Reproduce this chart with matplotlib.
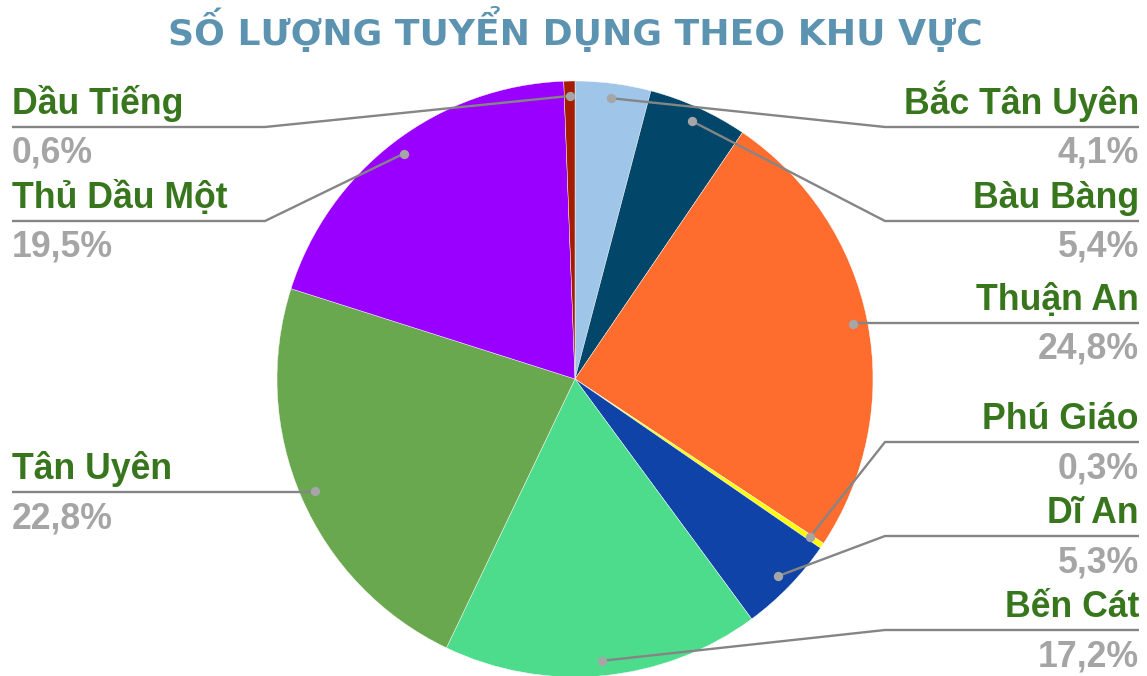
import matplotlib
matplotlib.use("Agg")
import matplotlib.pyplot as plt
import numpy as np

# ---- data ----
title = "SỐ LƯỢNG TUYỂN DỤNG THEO KHU VỰC"
regions = ["Bắc Tân Uyên", "Bàu Bàng", "Thuận An", "Phú Giáo", "Dĩ An",
           "Bến Cát", "Tân Uyên", "Thủ Dầu Một", "Dầu Tiếng"]
shares = [4.1, 5.4, 24.8, 0.3, 5.3, 17.2, 22.8, 19.5, 0.6]
pct_labels = ["4,1%", "5,4%", "24,8%", "0,3%", "5,3%", "17,2%", "22,8%", "19,5%", "0,6%"]
colors = ["#9FC5E8", "#02466A", "#FF6D2E", "#FFFF00", "#1043A8",
          "#4DDC8C", "#6AA84F", "#9900FF", "#A61C00"]

# ---- layout (pixel units, y measured from top) ----
W, H = 1147, 676
side = ["R", "R", "R", "R", "R", "R", "L", "L", "L"]
line_y = [127, 221, 323, 442, 536, 630, 492, 221, 127]

fig = plt.figure(figsize=(W / 100, H / 100), dpi=100)
ax = fig.add_axes([0, 0, 1, 1])

cx, cy, R = 575, H - 379, 298
wedges, _ = ax.pie(shares, colors=colors, startangle=90, counterclock=False,
                   center=(cx, cy), radius=R,
                   wedgeprops=dict(linewidth=0.3, edgecolor="white"))
ax.set_xlim(0, W)
ax.set_ylim(0, H)
ax.set_aspect("equal")
ax.axis("off")

name_col = "#38761D"
pct_col = "#A5A5A5"
line_col = "#858585"
lab_font = ["Liberation Sans", "DejaVu Sans"]
fs = 25.7

for w, name, pct, sd, ly in zip(wedges, regions, pct_labels, side, line_y):
    mid = np.deg2rad((w.theta1 + w.theta2) / 2)
    dx = cx + 0.95 * R * np.cos(mid)
    dy = cy + 0.95 * R * np.sin(mid)
    yl = H - ly
    if sd == "R":
        xs_end, xs_bend = 1139, 885
        xt, ha = 1139, "right"
    else:
        xs_end, xs_bend = 12, 265
        xt, ha = 12, "left"
    if abs(yl - dy) < 3:
        ax.plot([dx, xs_end], [yl, yl], color=line_col, lw=1.7, zorder=3,
                solid_capstyle="butt")
    else:
        ax.plot([dx, xs_bend, xs_end], [dy, yl, yl], color=line_col, lw=1.7,
                zorder=3, solid_capstyle="butt")
    ax.scatter([dx], [dy], s=45, color="#A6A6A6", zorder=4, linewidths=0)
    ax.text(xt, yl + 13, name, ha=ha, va="baseline", fontsize=fs,
            fontweight="bold", color=name_col, family=lab_font)
    ax.text(xt, yl - 36, pct, ha=ha, va="baseline", fontsize=fs,
            fontweight="bold", color=pct_col, family=lab_font)

fig.text(575 / W, 1 - 44.5 / H, title, ha="center", va="baseline",
         fontsize=26, fontweight="bold", color="#5B93B1",
         family=["DejaVu Sans"])

fig.savefig("out.png", dpi=100)
